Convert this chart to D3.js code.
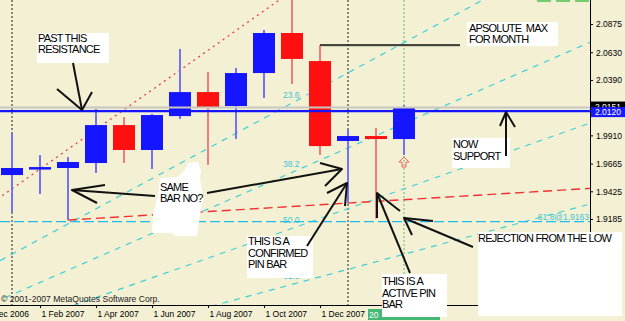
<!DOCTYPE html>
<html>
<head>
<meta charset="utf-8">
<script src="https://cdn.jsdelivr.net/npm/d3@7"></script>
<style>
  body { margin: 0; background: #f3f0d4; }
  svg { display: block; font-family: "Liberation Sans", Arial, sans-serif; }
  .note { font-size: 11px; letter-spacing: -0.8px; fill: #000; white-space: pre; }
  .axis text { font-size: 8.5px; fill: #000; font-family: "Liberation Sans", Arial, sans-serif; }
</style>
</head>
<body>
<svg id="chart" width="625" height="321"></svg>
<script>
// monthly GBPUSD bars
const months = ["2007-01","2007-02","2007-03","2007-04","2007-05","2007-06","2007-07","2007-08",
                "2007-09","2007-10","2007-11","2007-12","2008-01","2008-02","2008-03"];
const open  = [1.9566, 1.9618, 1.9627, 1.9670, 1.9999, 1.9783, 2.0077, 2.0285, 2.0164, 2.0450, 2.0797, 2.0554, 1.9861, 1.9904, 1.9878];
const high  = [1.9930, 1.9739, 1.9722, 2.0138, 2.0069, 2.0095, 2.0658, 2.0459, 2.0494, 2.0823, 2.1161, 2.0693, 1.9956, 1.9973, 2.0173];
const low   = [1.9245, 1.9401, 1.9176, 1.9583, 1.9670, 1.9618, 2.0051, 1.9653, 1.9878, 2.0233, 2.0355, 1.9739, 1.9323, 1.9190, 1.9739];
const close = [1.9627, 1.9635, 1.9679, 1.9999, 1.9783, 2.0086, 2.0285, 2.0155, 2.0450, 2.0797, 2.0572, 1.9817, 1.9904, 1.9878, 2.0151];

const priceTicks = [2.0875, 2.0630, 2.0390, 1.9910, 1.9665, 1.9425, 1.9185];
const timeLabels = ["2006-12","2007-02","2007-04","2007-06","2007-08","2007-10","2007-12"];

// objects on the chart
const fanStart = ["2005-11", 1.7046];
const fanEnd = ["2007-11", 2.1161];
const fanLevels = [23.6, 38.2, 50.0, 61.8];
const trendStart = ["2007-03", 1.9176];
const trendEnd = ["2008-01", 1.9323];
const fibLevel = [61.8, 1.9163];
const supportLevel = 2.0120;
const bidPrice = 2.0151;
const absMax = ["2007-12", "2008-05", 2.0693];
const separators = ["2007-01", "2008-01"];
const currentBar = "2008-03";

const W = 590, H = 305;
const monthNames = ["Jan","Feb","Mar","Apr","May","Jun","Jul","Aug","Sep","Oct","Nov","Dec"];
let idx = (m) => { let [yy, mm] = m.split("-").map(Number); return (yy - 2007) * 12 + (mm - 1); };

const x = d3.scaleLinear().domain([0, 1]).range([12, 40]);
const y = d3.scaleLinear().domain([1.9185, 2.0875]).range([219, 24]);
const step = x(1) - x(0);
const bodyW = step * 0.786;

const svg = d3.select("#chart");
svg.append("rect").attr("width", 625).attr("height", 321).attr("fill", "#f3f0d4");

svg.append("clipPath").attr("id", "plot").append("rect").attr("width", W).attr("height", H);
const g = svg.append("g").attr("clip-path", "url(#plot)");

// period separators and current bar line
separators.forEach(m => {
    g.append("line").attr("x1", x(idx(m))).attr("x2", x(idx(m))).attr("y1", 0).attr("y2", H)
        .attr("stroke", "#666").attr("stroke-width", 1.5).attr("stroke-dasharray", "2,2");
});
g.append("line").attr("x1", x(idx(currentBar))).attr("x2", x(idx(currentBar))).attr("y1", 0).attr("y2", H)
    .attr("stroke", "#8fd08f").attr("stroke-width", 1.5).attr("stroke-dasharray", "2,2");

// fibonacci fan
const p1 = [x(idx(fanStart[0])), y(fanStart[1])];
const p2 = [x(idx(fanEnd[0])), y(fanEnd[1])];
fanLevels.forEach(L => {
    let py = y(fanEnd[1] - L / 100 * (fanEnd[1] - fanStart[1]));
    let yR = p1[1] + (py - p1[1]) * (W - p1[0]) / (p2[0] - p1[0]);
    g.append("line").attr("x1", p1[0]).attr("y1", p1[1]).attr("x2", W).attr("y2", yR)
        .attr("stroke", "#3fcfd6").attr("stroke-width", 1.2).attr("stroke-dasharray", "6,6");
    g.append("text").attr("x", p2[0] - 9).attr("y", py - 5)
        .attr("font-size", 8.5).attr("fill", "#3fc4d4").text(L.toFixed(1));
});
g.append("line").attr("x1", p1[0]).attr("y1", p1[1]).attr("x2", p2[0]).attr("y2", p2[1])
    .attr("stroke", "#f03c3c").attr("stroke-width", 1.3).attr("stroke-dasharray", "2,4");

// 61.8 retracement level
g.append("line").attr("x1", 0).attr("x2", W).attr("y1", y(fibLevel[1])).attr("y2", y(fibLevel[1]))
    .attr("stroke", "#1ebcf0").attr("stroke-width", 1.2).attr("stroke-dasharray", "10,4");
g.append("text").attr("x", W - 1).attr("y", y(fibLevel[1]) - 2).attr("text-anchor", "end")
    .attr("font-size", 8.5).attr("fill", "#3fc4d4").text(`${fibLevel[0]}@${fibLevel[1].toFixed(4)}`);

// lower trendline from the March 2007 low through the January 2008 low
let t1 = [x(idx(trendStart[0])), y(trendStart[1])];
let t2 = [x(idx(trendEnd[0])), y(trendEnd[1])];
let tR = t1[1] + (t2[1] - t1[1]) * (W - t1[0]) / (t2[0] - t1[0]);
g.append("line").attr("x1", t1[0]).attr("y1", t1[1]).attr("x2", W).attr("y2", tR)
    .attr("stroke", "#f23030").attr("stroke-width", 1.4).attr("stroke-dasharray", "9,5");

// candles
let bars = months.map((m, i) => ({ i: idx(m), o: open[i], h: high[i], l: low[i], c: close[i] }));
let gBar = g.selectAll("g.bar").data(bars).enter().append("g").attr("class", "bar");
gBar.append("line")
    .attr("x1", d => x(d.i)).attr("x2", d => x(d.i))
    .attr("y1", d => y(d.h)).attr("y2", d => y(d.l))
    .attr("stroke", d => d.c >= d.o ? "#7474ee" : "#f07c7c").attr("stroke-width", 2);
gBar.append("rect")
    .attr("x", d => x(d.i) - bodyW / 2).attr("width", bodyW)
    .attr("y", d => y(Math.max(d.o, d.c)))
    .attr("height", d => Math.max(2.5, Math.abs(y(d.o) - y(d.c))))
    .attr("fill", d => d.c >= d.o ? "#1515ff" : "#ff1010");

// signal arrow under the current bar
let cb = bars[bars.length - 1];
g.append("path")
    .attr("d", `M${x(cb.i)},${y(cb.l) + 2} l-5,5 h3 v5 h4 v-5 h3 z`)
    .attr("fill", "none").attr("stroke", "#f06060").attr("stroke-width", 1);

// absolute max line
g.append("line").attr("x1", x(idx(absMax[0]))).attr("x2", x(idx(absMax[1])))
    .attr("y1", y(absMax[2]) + 1).attr("y2", y(absMax[2]) + 1).attr("stroke", "#b0b0a0").attr("stroke-width", 1);
g.append("line").attr("x1", x(idx(absMax[0]))).attr("x2", x(idx(absMax[1])))
    .attr("y1", y(absMax[2])).attr("y2", y(absMax[2])).attr("stroke", "#111").attr("stroke-width", 1.6);

// bid line and support line
g.append("line").attr("x1", 0).attr("x2", W).attr("y1", y(bidPrice)).attr("y2", y(bidPrice))
    .attr("stroke", "#c8c8c0").attr("stroke-width", 2);
g.append("line").attr("x1", 0).attr("x2", W).attr("y1", y(supportLevel)).attr("y2", y(supportLevel))
    .attr("stroke", "#1414ff").attr("stroke-width", 2.2);

// top edge marks
g.append("line").attr("x1", 537).attr("x2", W).attr("y1", 1).attr("y2", 1)
    .attr("stroke", "#4cc24c").attr("stroke-width", 1.5).attr("stroke-dasharray", "14,5");

svg.append("text").attr("x", 1).attr("y", 302).attr("font-size", 8.6).attr("fill", "#222")
    .text("\u00a9 2001-2007 MetaQuotes Software Corp.");

// axes
let fmtMonth = (i) => {
    let yy = 2007 + Math.floor(i / 12), mm = ((i % 12) + 12) % 12;
    return `1 ${monthNames[mm]} ${yy}`;
};
let xAxis = svg.append("g").attr("class", "axis").attr("transform", `translate(0,${H})`)
    .call(d3.axisBottom(x).tickValues(timeLabels.map(idx)).tickFormat(fmtMonth).tickSize(3).tickPadding(2));
xAxis.select(".domain").remove();
xAxis.selectAll("text").attr("text-anchor", "start").attr("dx", 1).attr("y", 6);
svg.append("line").attr("x1", 0).attr("x2", W).attr("y1", H + 0.5).attr("y2", H + 0.5).attr("stroke", "#000");

let yAxis = svg.append("g").attr("class", "axis").attr("transform", `translate(${W},0)`)
    .call(d3.axisRight(y).tickValues(priceTicks).tickFormat(d3.format(".4f")).tickSize(3).tickPadding(3));
yAxis.select(".domain").remove();
svg.append("line").attr("x1", W + 0.5).attr("x2", W + 0.5).attr("y1", 0).attr("y2", H).attr("stroke", "#000");

// price labels on the scale
svg.append("rect").attr("x", W + 1).attr("y", y(bidPrice) - 6).attr("width", 34).attr("height", 10).attr("fill", "#000");
svg.append("text").attr("x", W + 5).attr("y", y(bidPrice) + 2).attr("font-size", 8.5).attr("fill", "#fff").text(bidPrice.toFixed(4));
svg.append("rect").attr("x", W + 1).attr("y", y(supportLevel) - 4).attr("width", 34).attr("height", 10).attr("fill", "#1a1aff");
svg.append("text").attr("x", W + 5).attr("y", y(supportLevel) + 4).attr("font-size", 8.5).attr("fill", "#fff").text(supportLevel.toFixed(4));

// time label of the current bar line (mostly covered by a note)
svg.append("rect").attr("x", x(idx(currentBar)) - 36).attr("y", 309).attr("width", 72).attr("height", 11).attr("fill", "#45b876");
svg.append("text").attr("x", x(idx(currentBar)) - 35).attr("y", 317.5).attr("font-size", 8.5).attr("fill", "#fff").text("20");

// hand drawn notes
const notes = [
    { box: [37, 33, 72, 30], x: 38, lines: [["PAST THIS", 42], ["RESISTANCE", 53]] },
    { box: [467, 22, 91, 24], x: 469, lines: [["APSOLUTE  MAX", 32], ["FOR MONTH", 43]] },
    { box: [452, 138, 58, 30], x: 453, lines: [["NOW", 148], ["SUPPORT", 160]] },
    { box: [247, 236, 66, 42], x: 248, lines: [["THIS IS A", 245], ["CONFIRMED", 257], ["PIN BAR", 268]] },
    { box: [382, 274, 65, 43], x: 382, lines: [["THIS IS A", 285], ["ACTIVE PIN", 297], ["BAR", 308]] },
    { box: [478, 232, 144, 84], x: 478, lines: [["REJECTION FROM THE LOW", 242]] },
    { blob: "M188,163 L198,162 L201,170 L200,178 L203,200 L200,215 L197,236 L175,236 L172,233 L152,233 L153,215 L158,195 L160,178 L178,177 L185,170 Z",
      x: 160, lines: [["SAME", 191], ["BAR NO?", 202]] }
];
notes.forEach(n => {
    if (n.box) svg.append("rect").attr("x", n.box[0]).attr("y", n.box[1]).attr("width", n.box[2]).attr("height", n.box[3]).attr("fill", "#fff");
    if (n.blob) svg.append("path").attr("d", n.blob).attr("fill", "#fff");
    n.lines.forEach(([t, by]) => svg.append("text").attr("class", "note").attr("x", n.x).attr("y", by).text(t));
});

const arrows = [
    [[[73, 63], [82, 110]], [[57, 89], [82, 110], [92, 92]]],
    [[[506, 156], [506, 112]], [[500, 126], [506, 112], [515, 127]]],
    [[[155, 196], [72, 190]], [[105, 185], [72, 190], [97, 203]]],
    [[[207, 193], [342, 169]], [[320, 163], [342, 169], [325, 186]]],
    [[[307, 246], [347, 183]], [[327, 193], [347, 183], [345, 206]]],
    [[[410, 273], [377, 193]], [[377, 218], [377, 193], [400, 211]]],
    [[[473, 247], [404, 218]], [[433, 221], [404, 218], [412, 235]]]
];
const ln = d3.line();
arrows.forEach(a => a.forEach(seg => {
    svg.append("path").attr("d", ln(seg)).attr("fill", "none")
        .attr("stroke", "#111").attr("stroke-width", 2).attr("stroke-linejoin", "round");
}));
</script>
</body>
</html>
